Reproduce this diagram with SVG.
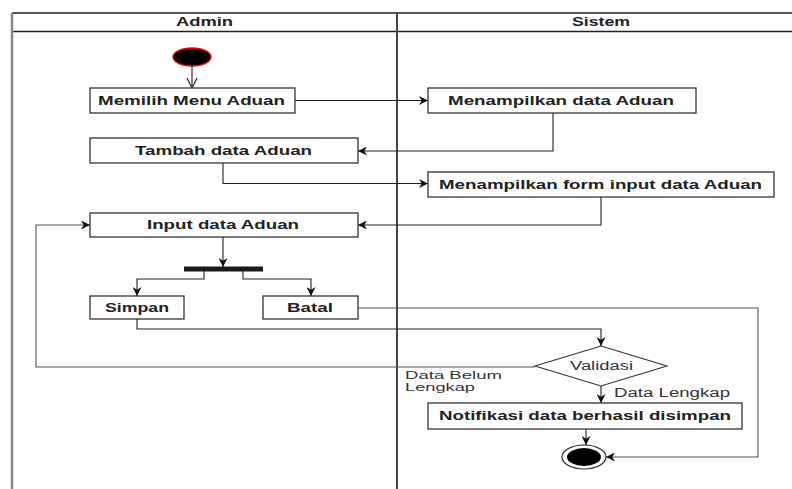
<svg xmlns="http://www.w3.org/2000/svg" width="792" height="489" viewBox="0 0 792 489">
<defs>
<marker id="arr" viewBox="0 0 10 10" refX="10" refY="5" markerWidth="9" markerHeight="9" markerUnits="userSpaceOnUse" orient="auto">
<path d="M0,0 L10,5 L0,10 L3,5 z" fill="#111"/>
</marker>
<marker id="open" viewBox="0 0 10 10" refX="10" refY="5" markerWidth="10" markerHeight="12" markerUnits="userSpaceOnUse" orient="auto">
<path d="M0,0 L10,5 L0,10" fill="none" stroke="#222" stroke-width="1.2"/>
</marker>
</defs>
<style>
.box{fill:#fff;stroke:#333;stroke-width:1.3}
.t{font-family:"Liberation Sans",Arial,sans-serif;font-size:12px;font-weight:bold;fill:#222;text-anchor:middle}
.n{font-family:"Liberation Sans",Arial,sans-serif;font-size:12px;fill:#333}
.s{font-family:"Liberation Sans",Arial,sans-serif;font-size:10.5px;fill:#333}
.c{fill:none;stroke:#222;stroke-width:1.1}
.g{fill:none;stroke:#555;stroke-width:1.1}
</style>
<rect width="792" height="489" fill="#fff"/>
<g id="pool">
<line x1="12" y1="13" x2="792" y2="13" stroke="#222" stroke-width="1.3"/>
<line x1="12" y1="31.5" x2="792" y2="31.5" stroke="#222" stroke-width="1.3"/>
<line x1="12" y1="13" x2="12" y2="489" stroke="#888" stroke-width="2.5"/>
<line x1="397" y1="13" x2="397" y2="489" stroke="#444" stroke-width="2"/>
<text class="t" x="204.5" y="26" textLength="57" lengthAdjust="spacingAndGlyphs">Admin</text>
<text class="t" x="601" y="26" textLength="58" lengthAdjust="spacingAndGlyphs">Sistem</text>
</g>
<g id="connectors">
<path class="c" d="M192,66 L192,88" marker-end="url(#open)"/>
<path class="c" d="M295,100.5 L428,100.5" marker-end="url(#arr)"/>
<path class="c" d="M553,113 L553,151 L358,151" marker-end="url(#arr)"/>
<path class="c" d="M223,163 L223,183.5 L428,183.5" marker-end="url(#arr)"/>
<path class="c" d="M601,197 L601,225 L358,225" marker-end="url(#arr)"/>
<path class="c" d="M223,237 L223,267" marker-end="url(#arr)"/>
<path class="c" d="M204,271 L204,279 L137,279 L137,296" marker-end="url(#arr)"/>
<path class="c" d="M243,271 L243,279 L311,279 L311,296" marker-end="url(#arr)"/>
<path class="c" d="M137,319 L137,329 L601,329 L601,346" marker-end="url(#arr)"/>
<path class="g" d="M358,308 L758,308 L758,457 L606,457" marker-end="url(#arr)"/>
<path class="g" d="M535,367 L36,367 L36,225 L90,225" marker-end="url(#arr)"/>
<path class="c" d="M601,386 L601,403" marker-end="url(#arr)"/>
<path class="c" d="M586,429 L586,445" marker-end="url(#arr)"/>
<text class="s" x="405" y="378.5" textLength="97" lengthAdjust="spacingAndGlyphs">Data Belum</text>
<text class="s" x="405" y="390.5" textLength="70" lengthAdjust="spacingAndGlyphs">Lengkap</text>
<text class="n" x="614" y="397" textLength="116" lengthAdjust="spacingAndGlyphs">Data Lengkap</text>
</g>
<g id="start">
<ellipse cx="192" cy="57" rx="19" ry="9" fill="#000" stroke="#e00" stroke-width="1.3"/>
</g>
<g id="memilih">
<rect class="box" x="90" y="88" width="205" height="25"/>
<text class="t" x="191.5" y="104.5" textLength="187" lengthAdjust="spacingAndGlyphs">Memilih Menu Aduan</text>
</g>
<g id="menampilkan-data">
<rect class="box" x="428" y="88" width="268" height="25"/>
<text class="t" x="561" y="104.5" textLength="226" lengthAdjust="spacingAndGlyphs">Menampilkan data Aduan</text>
</g>
<g id="tambah">
<rect class="box" x="90" y="138" width="268" height="25"/>
<text class="t" x="223.5" y="155" textLength="177" lengthAdjust="spacingAndGlyphs">Tambah data Aduan</text>
</g>
<g id="menampilkan-form">
<rect class="box" x="428" y="172" width="346" height="25"/>
<text class="t" x="600.5" y="188.5" textLength="323" lengthAdjust="spacingAndGlyphs">Menampilkan form input data Aduan</text>
</g>
<g id="input">
<rect class="box" x="90" y="213" width="268" height="24"/>
<text class="t" x="223" y="229" textLength="152" lengthAdjust="spacingAndGlyphs">Input data Aduan</text>
</g>
<g id="fork">
<rect x="184" y="266.5" width="79" height="5" fill="#1a1a1a"/>
</g>
<g id="simpan">
<rect class="box" x="90" y="296" width="94" height="23"/>
<text class="t" x="137" y="312" textLength="64" lengthAdjust="spacingAndGlyphs">Simpan</text>
</g>
<g id="batal">
<rect class="box" x="263" y="296" width="95" height="23"/>
<text class="t" x="310" y="312" textLength="46" lengthAdjust="spacingAndGlyphs">Batal</text>
</g>
<g id="validasi">
<polygon points="601,346 667,366 601,386 535,366" fill="#fff" stroke="#333" stroke-width="1.1"/>
<text class="n" x="601.5" y="370" text-anchor="middle" textLength="63" lengthAdjust="spacingAndGlyphs">Validasi</text>
</g>
<g id="notifikasi">
<rect class="box" x="428" y="403" width="314" height="26"/>
<text class="t" x="585" y="420" textLength="292" lengthAdjust="spacingAndGlyphs">Notifikasi data berhasil disimpan</text>
</g>
<g id="end">
<ellipse cx="584" cy="457" rx="22" ry="12" fill="#fff" stroke="#222" stroke-width="1.2"/>
<ellipse cx="584" cy="457" rx="17" ry="9" fill="#000"/>
</g>
</svg>
